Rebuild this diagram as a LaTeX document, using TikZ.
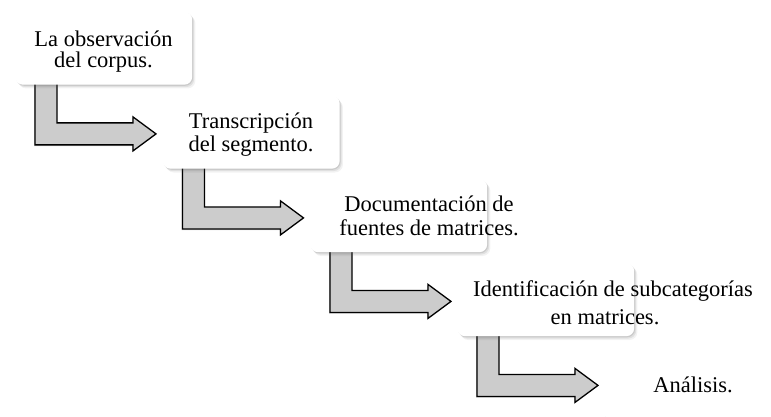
\documentclass[tikz,border=0pt]{standalone}
\usepackage{fontspec}
\setmainfont{Liberation Serif}
\usetikzlibrary{shadows,backgrounds}
\tikzset{
  stepbox/.style={rectangle, rounded corners=8pt, fill=white, draw=none,
    minimum width=177pt, minimum height=73pt, inner sep=0pt, anchor=north west,
    general shadow={fill=black!70, opacity=.07, shadow xshift=3.2pt, shadow yshift=-3.8pt},
    general shadow={fill=black!70, opacity=.11, shadow xshift=2pt, shadow yshift=-2.4pt},
    general shadow={fill=black!70, opacity=.15, shadow xshift=0.9pt, shadow yshift=-1.1pt}},
  txt/.style={inner sep=0pt, font=\fontsize{22.5}{24}\selectfont, anchor=base, text=black},
  bentarrow/.style={fill=gray!40, draw=black, line width=1.3pt, line join=miter,
    drop shadow={shadow xshift=-1pt, shadow yshift=-1.2pt, opacity=.3, fill=black!60}}
}
\newcommand{\bentarr}[1]{%
  \draw[bentarrow] ([shift={(20,-6)}]#1.south west) -- ++(0,66) -- ++(98,0) -- ++(0,6)
    -- ++(23,-17) -- ++(-23,-17) -- ++(0,6) -- ++(-76,0) -- ++(0,-44) -- cycle;}
\begin{document}
\begin{tikzpicture}[x=1pt,y=-1pt]
\useasboundingbox (0,0) rectangle (771,417);
\clip (0,0) rectangle (771,417);
\node[stepbox] (b1) at (15,11.5) {};
\node[stepbox] (b2) at (162.5,95.5) {};
\node[stepbox] (b3) at (310,179) {};
\node[stepbox] (b4) at (457,263) {};
\node[stepbox] (b5) at (604,347) {};
\begin{scope}[on background layer]
  \bentarr{b1}
  \bentarr{b2}
  \bentarr{b3}
  \bentarr{b4}
\end{scope}
\node[txt] (t1a) at (103.5,47) {La observación};
\node[txt] (t1b) at (103.5,67.5) {del corpus.};
\node[txt] (t2a) at (251,129) {Transcripción};
\node[txt] (t2b) at (251,151.5) {del segmento.};
\node[txt] (t3a) at (429,211.5) {Documentación de};
\node[txt] (t3b) at (429,235) {fuentes de matrices.};
\node[txt] (t4a) at (613,296) {Identificación de subcategorías};
\node[txt] (t4b) at (605,324) {en matrices.};
\node[txt] (t5) at (693,392) {Análisis.};
\end{tikzpicture}
\end{document}
